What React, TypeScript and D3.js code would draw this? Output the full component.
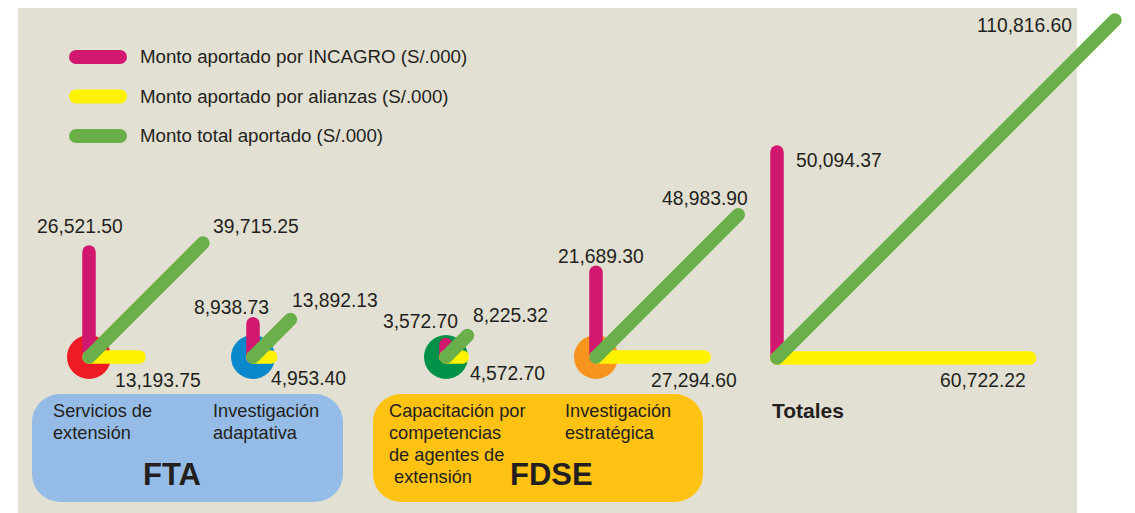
import React from "react";
import * as d3 from "d3";

// ---- Data ----
const categories = [
  "Servicios de extensión",
  "Investigación adaptativa",
  "Capacitación por competencias de agentes de extensión",
  "Investigación estratégica",
  "Totales",
];
const incagro = [26521.5, 8938.73, 3572.7, 21689.3, 50094.37];
const alianzas = [13193.75, 4953.4, 4572.7, 27294.6, 60722.22];
const totalAportado = [39715.25, 13892.13, 8225.32, 48983.9, 110816.6];

const legendLabels = [
  "Monto aportado por INCAGRO (S/.000)",
  "Monto aportado por alianzas (S/.000)",
  "Monto total aportado (S/.000)",
];
const funds = ["FTA", "FDSE"];
const fundCategoryLines = [
  [["Servicios de", "extensión"], ["Investigación", "adaptativa"]],
  [["Capacitación por", "competencias", "de agentes de", " extensión"], ["Investigación", "estratégica"]],
];

// ---- Layout / style ----
const W = 1135;
const H = 513;
const FONT = "'Liberation Sans', Arial, Helvetica, sans-serif";
const TEXT = "#231f20";
const PINK = "#d2186e";
const YELLOW = "#fff200";
const GREEN = "#6ab04a";
const seriesColors = [PINK, YELLOW, GREEN];
const circleColors = ["#ed1c24", "#0a88cc", "#009249", "#f7941d", null];
const fundColors = ["#95bce6", "#fdc212"];

const originX = d3.scaleOrdinal<string, number>().domain(categories).range([89, 253, 446, 596, 777]);
const originY = d3.scaleOrdinal<string, number>().domain(categories).range([357, 357, 357, 357, 358]);

const len = d3
  .scalePow()
  .exponent(1.06)
  .domain([0, d3.max(totalAportado) as number])
  .range([0, 478]);

const fmt = d3.format(",.2f");

// label offsets relative to group origin: [pink, yellow, green] -> [dx, dy]
const labelOffsets = [
  [[-52, -124], [26, 30], [124, -124]],
  [[-59, -43], [18, 28], [39, -50]],
  [[-63, -29], [24, 23], [27, -35]],
  [[-38, -94], [55, 30], [66, -152]],
  [[19, -191], [163, 29], [200, -326]],
];

const fundBoxes = [
  { x: 32, y: 394, w: 311, h: 108, colX: [53, 213], titleX: 143 },
  { x: 373, y: 394, w: 330, h: 108, colX: [389, 565], titleX: 510 },
];

const SW = 13.5;

export default function App() {
  const series = [incagro, alianzas, totalAportado];
  return (
    <svg
      width={W}
      height={H}
      style={{ position: "absolute", left: 0, top: 0, background: "#ffffff" }}
      fontFamily={FONT}
    >
      <rect x={18} y={8} width={1059} height={H - 8} fill="#e2e0d2" />

      {/* Legend */}
      {legendLabels.map((lab, i) => {
        const y = 57 + i * 39.5;
        return (
          <g key={lab}>
            <line x1={76} x2={120} y1={y} y2={y} stroke={seriesColors[i]} strokeWidth={14} strokeLinecap="round" />
            <text x={140} y={y + 6} fontSize={18.7} fill={TEXT}>
              {lab}
            </text>
          </g>
        );
      })}

      {/* Fund boxes */}
      {funds.map((f, fi) => {
        const b = fundBoxes[fi];
        return (
          <g key={f}>
            <rect x={b.x} y={b.y} width={b.w} height={b.h} rx={28} ry={28} fill={fundColors[fi]} />
            {fundCategoryLines[fi].map((lines, ci) =>
              lines.map((ln, li) => (
                <text
                  key={ci + "-" + li}
                  x={b.colX[ci]}
                  y={417 + li * 22}
                  fontSize={18.2}
                  fill={TEXT}
                  style={{ whiteSpace: "pre" }}
                >
                  {ln}
                </text>
              ))
            )}
            <text x={b.titleX} y={485} fontSize={31} fontWeight="bold" fill={TEXT}>
              {f}
            </text>
          </g>
        );
      })}

      {/* Groups */}
      {categories.map((cat, i) => {
        const ox = originX(cat);
        const oy = originY(cat);
        const lp = len(incagro[i]);
        const ly = len(alianzas[i]);
        const lg = len(totalAportado[i]) / Math.SQRT2;
        const offs = labelOffsets[i];
        return (
          <g key={cat}>
            {circleColors[i] && <circle cx={ox} cy={oy} r={22} fill={circleColors[i] as string} />}
            <line x1={ox} y1={oy} x2={ox} y2={oy - lp} stroke={PINK} strokeWidth={SW} strokeLinecap="round" />
            <line x1={ox} y1={oy} x2={ox + ly} y2={oy} stroke={YELLOW} strokeWidth={SW} strokeLinecap="round" />
            <line x1={ox} y1={oy} x2={ox + lg} y2={oy - lg} stroke={GREEN} strokeWidth={SW} strokeLinecap="round" />
            {series.map((s, si) => (
              <text key={si} x={ox + offs[si][0]} y={oy + offs[si][1]} fontSize={19.3} fill={TEXT}>
                {fmt(s[i])}
              </text>
            ))}
          </g>
        );
      })}

      <text x={772} y={418} fontSize={21} fontWeight="bold" fill={TEXT}>
        {categories[4]}
      </text>
    </svg>
  );
}
